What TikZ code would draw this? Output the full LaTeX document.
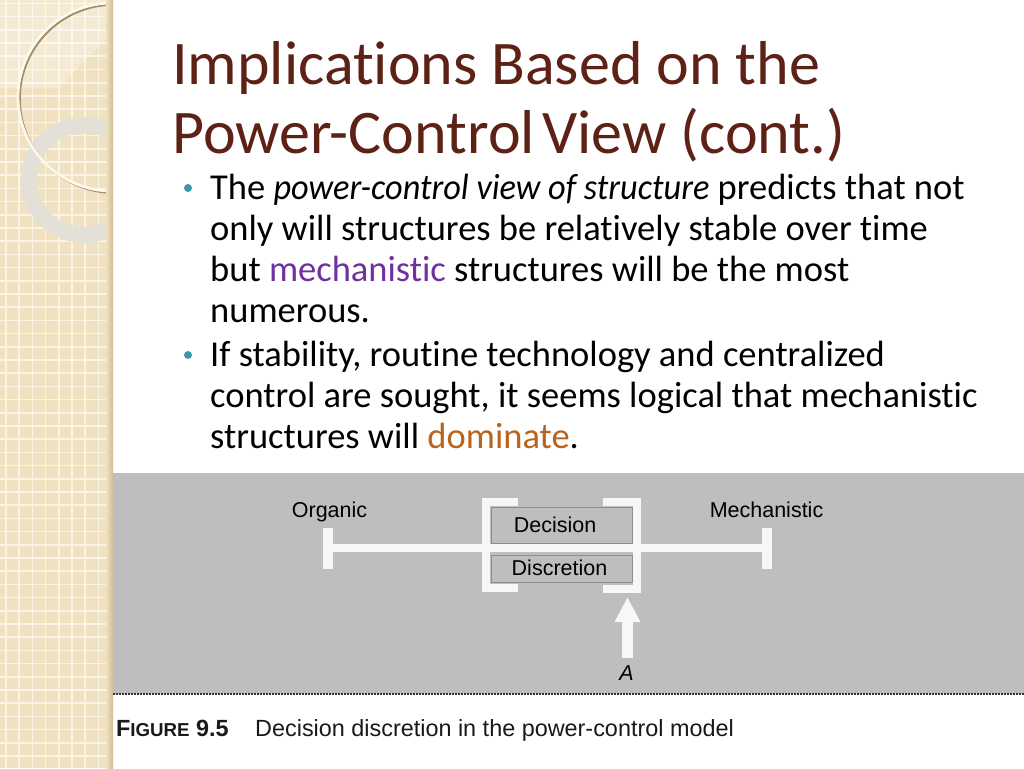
\documentclass[tikz,border=0pt]{standalone}
\usepackage{fontspec}
\setmainfont{Carlito}[Ligatures=NoCommon, ItalicFeatures={FakeStretch=0.94}]
\newfontfamily\figfont{Liberation Sans}
\usetikzlibrary{arrows.meta}
\definecolor{titlec}{RGB}{94,33,22}
\definecolor{bulletc}{RGB}{60,150,175}
\definecolor{purp}{RGB}{112,48,160}
\definecolor{domc}{RGB}{184,100,30}
\definecolor{stripc}{RGB}{240,225,192}
\definecolor{stripdark}{RGB}{205,188,150}
\definecolor{gridc}{RGB}{251,244,228}
\definecolor{figbg}{RGB}{190,190,190}
\definecolor{barc}{RGB}{247,247,247}
\definecolor{ringc}{RGB}{226,224,218}
\definecolor{ringlight}{RGB}{252,248,236}
\definecolor{ringshadow}{RGB}{165,140,100}
\definecolor{figborder}{RGB}{50,50,50}
\definecolor{innerc}{RGB}{70,70,70}
\definecolor{captc}{RGB}{25,25,25}
\begin{document}
\begin{tikzpicture}[x=1pt,y=-1pt,
  bodytext/.style={anchor=base west, inner sep=0pt, font=\fontsize{36.5}{41}\selectfont},
  titletext/.style={anchor=base west, inner sep=0pt, text=titlec, font=\fontsize{62}{69}\selectfont},
  blt/.style={circle, fill=bulletc, inner sep=0pt, minimum size=8pt},
  figlabel/.style={anchor=base, inner sep=0pt, text=black, font=\figfont\fontsize{21.5}{24}\selectfont},
  capt/.style={anchor=base west, inner sep=0pt, text=captc, font=\figfont\fontsize{23.4}{26}\selectfont},
  tend/.style={fill=barc, draw=none, inner sep=0pt, minimum width=10pt, minimum height=41pt},
  whitebar/.style={draw=barc, line width=8pt, line join=miter},
  innerline/.style={draw=innerc, line width=0.8pt, opacity=0.4}
]
\useasboundingbox (0,0) rectangle (1024,768);
\fill[white] (0,0) rectangle (1024,768);

% left decorative strip
\fill[stripc] (0,0) rectangle (113,768);
\foreach \i in {0,...,8} {\draw[gridc, line width=1.6pt] ({6+13.2*\i},0) -- ({6+13.2*\i},768);}
\foreach \j in {0,...,57} {\draw[gridc, line width=1.6pt] (0,{3.5+13.2*\j}) -- (113,{3.5+13.2*\j});}
\begin{scope}
  \clip (0,0) rectangle (113,768);
  \fill[white, opacity=0.3] (0,0) -- (113,0) -- (113,32) -- (58,88) -- (0,88) -- cycle;
  \draw[ringc, line width=16pt, opacity=0.92] (84,180) circle (55);
  \draw[ringshadow, line width=2pt] (113.8,98.8) circle (94);
  \draw[ringlight, line width=2.8pt] (112,97) circle (94);
\end{scope}
\shade[left color=stripc, right color=stripdark] (106,0) rectangle (113,768);

% title
\node[titletext] (title1) at (172,84) {Implications Based on the};
\node[titletext] (title2) at (172,153) {Power-Control\hspace{0.12em}View (cont.)};

% bullets
\node[blt] (bul1) at (188,188) {};
\node[bodytext] (l1) at (210,199) {The \textit{power-control view of structure} predicts that not};
\node[bodytext] (l2) at (210,240) {only will structures be relatively stable over time};
\node[bodytext] (l3) at (210,281) {but \textcolor{purp}{mechanistic} structures will be the most};
\node[bodytext] (l4) at (210,322) {numerous.};
\node[blt] (bul2) at (188,355) {};
\node[bodytext] (l5) at (210,366) {If stability, routine technology and centralized};
\node[bodytext] (l6) at (210,407) {control are sought, it seems logical that mechanistic};
\node[bodytext] (l7) at (210,448) {structures will \textcolor{domc}{dominate}.};

% figure
\fill[figbg] (113,473) rectangle (1024,694);
\draw[figborder, line width=1.2pt, dash pattern=on 2pt off 1pt] (113,694) -- (1024,694);

\draw[innerline] (491,507) rectangle (632,543);
\draw[innerline] (491,555) rectangle (632,582);

\node[tend] (orgend) at (328,548) {};
\node[tend] (mecend) at (767,548) {};
\draw[whitebar] (orgend.east) -- (mecend.west);

\draw[whitebar] (518,502) -- (486,502) -- (486,588) -- (518,588);
\draw[whitebar] (603,502) -- (637,502) -- (637,589) -- (603,589);

\node[figlabel] (organic) at (329.5,517) {Organic};
\node[figlabel] (mech) at (766.5,517.5) {Mechanistic};
\node[figlabel] (dec) at (555,532) {Decision};
\node[figlabel] (disc) at (559.5,575) {Discretion};
\node[figlabel, font=\figfont\itshape\fontsize{21.5}{24}\selectfont] (alab) at (626.5,680) {A};

\coordinate (abase) at (627.5,658);
\coordinate (atip) at (627.5,597);
\draw[barc, line width=11pt, -{Triangle[width=24pt,length=25pt]}] (abase) -- (atip);

% caption
\node[capt] (figno) at (116,736) {\bfseries F{\fontsize{18.7}{20}\selectfont IGURE} 9.5};
\node[capt] (captext) at (255,736) {Decision discretion in the power-control model};
\end{tikzpicture}
\end{document}
